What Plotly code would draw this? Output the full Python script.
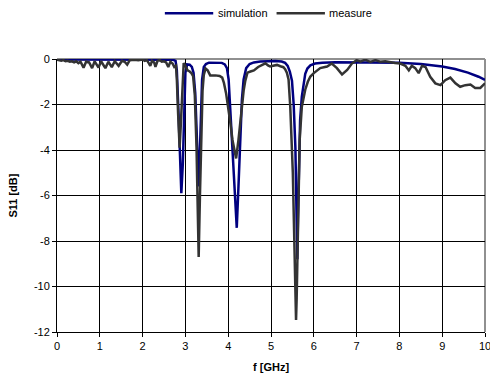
import plotly.graph_objects as go

# Simulation S11 (f in GHz, dB)
sim_f = [0.0, 0.5, 1.0, 1.5, 2.0, 2.5, 2.7, 2.77, 2.80, 2.84, 2.87, 2.905, 2.94, 2.97, 3.0, 3.04, 3.1,
         3.15, 3.19, 3.23, 3.26, 3.29, 3.31, 3.33, 3.35, 3.39, 3.43, 3.48, 3.55, 3.7, 3.85, 3.92,
         3.97, 4.01, 4.05, 4.1, 4.15, 4.2, 4.24, 4.28, 4.32, 4.36, 4.42, 4.5, 4.6, 4.75, 4.9, 5.1,
         5.25, 5.33, 5.39, 5.44, 5.49, 5.53, 5.57, 5.60, 5.615, 5.63, 5.65, 5.68, 5.72, 5.76, 5.80,
         5.85, 5.92, 6.03, 6.2, 6.5, 7.0, 7.5, 8.0, 8.5, 9.0, 9.3, 9.6, 9.85, 10.0]
sim_db = [-0.02, -0.02, -0.01, -0.01, -0.01, -0.02, -0.03, -0.08, -0.5, -2.4, -4.6, -5.9, -4.6, -2.4, -0.6,
          -0.24, -0.25, -0.35, -0.6, -1.5, -2.8, -4.2, -5.6, -4.6, -3.1, -0.9, -0.35, -0.22, -0.16,
          -0.15, -0.17, -0.24, -0.4, -0.9, -2.2, -3.9, -5.8, -7.42, -5.6, -3.2, -1.8, -0.9, -0.4,
          -0.22, -0.15, -0.11, -0.09, -0.09, -0.11, -0.17, -0.3, -0.55, -0.95, -2.0, -3.9, -7.0, -8.8,
          -7.0, -4.6, -2.7, -1.65, -1.1, -0.65, -0.42, -0.28, -0.2, -0.16, -0.14, -0.14, -0.14, -0.16,
          -0.22, -0.33, -0.44, -0.6, -0.78, -0.92]

# Measured S11 (f in GHz, dB)
meas_f = [0.0, 0.05, 0.1, 0.15, 0.2, 0.25, 0.3, 0.35, 0.4, 0.45, 0.5, 0.55, 0.62, 0.68, 0.75, 0.82,
          0.88, 0.97, 1.03, 1.13, 1.2, 1.28, 1.35, 1.44, 1.52, 1.58, 1.64, 1.7, 1.8, 1.9, 2.0, 2.05,
          2.1, 2.15, 2.18, 2.22, 2.27, 2.30, 2.35, 2.4, 2.45, 2.5, 2.55, 2.6, 2.65, 2.7, 2.74, 2.78,
          2.80, 2.83, 2.865, 2.89, 2.92, 2.94, 2.96, 3.0, 3.05, 3.1, 3.14, 3.18, 3.22, 3.26, 3.29,
          3.31, 3.34, 3.37, 3.40, 3.43, 3.47, 3.52, 3.58, 3.7, 3.8, 3.86, 3.9, 3.95, 4.0, 4.05, 4.1,
          4.15, 4.185, 4.24, 4.28, 4.32, 4.36, 4.40, 4.45, 4.52, 4.6, 4.7, 4.8, 4.87, 4.93, 4.98,
          5.05, 5.14, 5.22, 5.29, 5.33, 5.37, 5.41, 5.45, 5.51, 5.57, 5.585, 5.60, 5.62, 5.67, 5.72,
          5.80, 5.86, 5.92, 6.0, 6.08, 6.15, 6.31, 6.42, 6.54, 6.66, 6.78, 6.89, 7.0, 7.09, 7.2,
          7.32, 7.44, 7.55, 7.67, 7.8, 7.9, 8.02, 8.14, 8.22, 8.29, 8.37, 8.45, 8.53, 8.61, 8.72,
          8.84, 8.96, 9.07, 9.19, 9.31, 9.42, 9.54, 9.66, 9.77, 9.89, 10.0]
meas_db = [-0.03, -0.05, -0.08, -0.05, -0.1, -0.08, -0.12, -0.1, -0.15, -0.1, -0.18, -0.12, -0.38,
           -0.12, -0.15, -0.4, -0.1, -0.38, -0.1, -0.4, -0.12, -0.36, -0.1, -0.3, -0.08, -0.12,
           -0.25, -0.05, -0.03, -0.05, -0.02, -0.08, -0.05, -0.2, -0.3, -0.08, -0.15, -0.35, -0.08,
           -0.05, -0.12, -0.1, -0.15, -0.35, -0.12, -0.2, -0.35, -0.3, -0.9, -2.4, -3.9, -3.0,
           -1.6, -0.7, -0.18, -0.3, -0.5, -0.55, -0.62, -0.75, -1.6, -3.9, -6.8, -8.7, -6.0, -3.1,
           -1.4, -0.7, -0.42, -0.5, -0.72, -0.72, -0.75, -0.82, -1.05, -1.5, -2.1, -2.8, -3.56,
           -4.1, -4.37, -3.56, -2.8, -2.1, -1.4, -0.95, -0.6, -0.55, -0.5, -0.35, -0.25, -0.19,
           -0.28, -0.33, -0.3, -0.26, -0.32, -0.36, -0.45, -0.6, -0.9, -2.1, -5.0, -9.4, -11.47,
           -10.5, -8.0, -3.56, -2.1, -1.35, -1.0, -0.77, -0.62, -0.5, -0.4, -0.33, -0.2, -0.4, -0.68,
           -0.48, -0.2, -0.05, -0.12, -0.03, -0.13, -0.05, -0.12, -0.1, -0.15, -0.18, -0.2, -0.3,
           -0.5, -0.3, -0.4, -0.62, -0.3, -0.35, -0.78, -1.07, -1.15, -0.93, -0.82, -1.07, -1.22,
           -1.15, -1.12, -1.27, -1.27, -1.07]

x_ticks = [0, 1, 2, 3, 4, 5, 6, 7, 8, 9, 10]
y_ticks = [0, -2, -4, -6, -8, -10, -12]
series_names = ["simulation", "measure"]

SIM_COLOR = "#000080"
MEAS_COLOR = "#333333"
FONT = "Liberation Sans, Arial, sans-serif"

fig = go.Figure()
fig.add_trace(go.Scatter(x=sim_f, y=sim_db, mode="lines", name=series_names[0],
                         line=dict(color=SIM_COLOR, width=2.5), showlegend=False))
fig.add_trace(go.Scatter(x=meas_f, y=meas_db, mode="lines", name=series_names[1],
                         line=dict(color=MEAS_COLOR, width=2.5), showlegend=False))

fig.update_layout(
    width=490, height=385,
    margin=dict(l=57, r=5, t=59, b=53),
    paper_bgcolor="white", plot_bgcolor="white",
    font=dict(family=FONT, size=11, color="black"),
    xaxis=dict(range=[0, 10], tickvals=x_ticks, ticktext=[str(v) for v in x_ticks],
               showgrid=True, gridcolor="black", gridwidth=1, zeroline=False, automargin=False,
               showline=True, linecolor="black", linewidth=1, ticklabeloverflow="allow",
               ticks="outside", ticklen=4, tickcolor="black", tickfont=dict(size=11)),
    yaxis=dict(range=[-12, 0], tickvals=y_ticks, ticktext=[str(v) for v in y_ticks],
               showgrid=True, gridcolor="black", gridwidth=1, zeroline=False, automargin=False,
               showline=True, linecolor="black", linewidth=1,
               ticks="outside", ticklen=4, tickcolor="black", tickfont=dict(size=11)),
)

# grey plot-area border (top and right)
fig.add_shape(type="line", xref="paper", yref="paper", x0=0, x1=1, y0=1, y1=1,
              line=dict(color="#909090", width=2), layer="below")
fig.add_shape(type="line", xref="paper", yref="paper", x0=1, x1=1, y0=0, y1=1,
              line=dict(color="#909090", width=2), layer="below")

# axis titles
fig.add_annotation(text="<b>S11 [dB]</b>", xref="paper", yref="paper", x=-0.105, y=0.5,
                   textangle=-90, showarrow=False, font=dict(size=11), xanchor="center", yanchor="middle")
fig.add_annotation(text="<b>f [GHz]</b>", xref="paper", yref="paper", x=0.5, y=-0.128,
                   showarrow=False, font=dict(size=11), xanchor="center", yanchor="middle")

# legend (custom, top center)
leg_y = 1.168
legend_items = [(series_names[0], SIM_COLOR, 0.252, 0.365), (series_names[1], MEAS_COLOR, 0.513, 0.626)]
for name, col, x0, x1 in legend_items:
    fig.add_shape(type="line", xref="paper", yref="paper", x0=x0, x1=x1, y0=leg_y, y1=leg_y,
                  line=dict(color=col, width=2.5))
    fig.add_annotation(text=name, xref="paper", yref="paper", x=x1 + 0.006, y=leg_y,
                       showarrow=False, xanchor="left", yanchor="middle", font=dict(size=11))

fig.write_html("out.html")
